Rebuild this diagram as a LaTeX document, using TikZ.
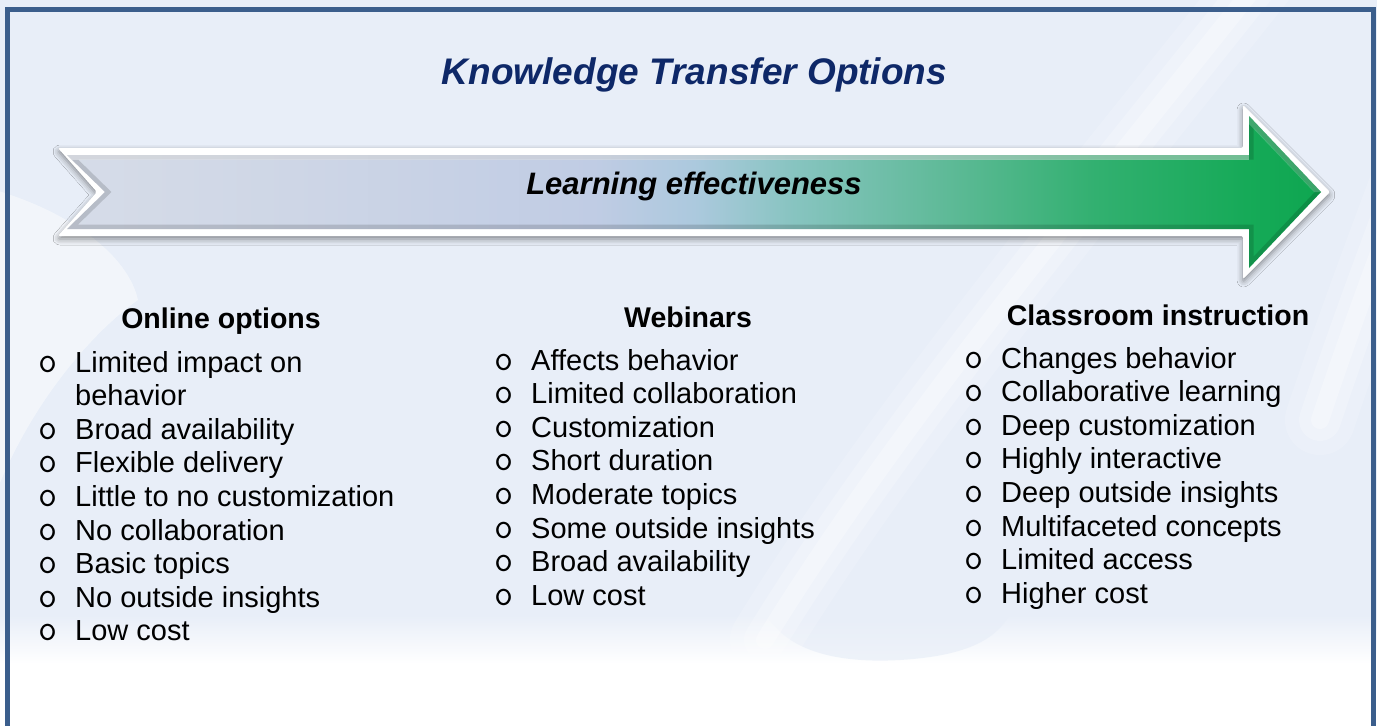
\documentclass[tikz,border=0pt]{standalone}
\usepackage{fontspec}
\setmainfont{Liberation Sans}
\usetikzlibrary{shadows.blur}

% palette
\definecolor{bgblue}{RGB}{232,238,248}
\definecolor{framecol}{RGB}{59,94,140}
\definecolor{titlecol}{RGB}{14,40,104}
\definecolor{sa0}{RGB}{214,220,232}
\definecolor{sa1}{RGB}{206,214,230}
\definecolor{sa2}{RGB}{192,204,228}
\definecolor{sa3}{RGB}{172,201,222}
\definecolor{sa4}{RGB}{135,196,192}
\definecolor{sa5}{RGB}{95,186,152}
\definecolor{sa6}{RGB}{50,176,112}
\definecolor{sa7}{RGB}{22,170,88}
\definecolor{sa8}{RGB}{14,166,80}

% grey-blue to green fill of the arrow
\pgfdeclarehorizontalshading{effshade}{100bp}{
  color(0bp)=(sa0); color(25bp)=(sa0); color(34bp)=(sa1); color(46bp)=(sa2);
  color(50bp)=(sa3); color(54bp)=(sa4); color(60bp)=(sa5); color(66bp)=(sa6);
  color(72bp)=(sa7); color(75bp)=(sa8); color(100bp)=(sa8)}

% open-circle list marker
\newcommand{\lstbullet}{\makebox[36pt][l]{\hspace*{-1pt}\ttfamily\fontsize{37pt}{37pt}\selectfont o}}

\begin{document}
\begin{tikzpicture}[x=1pt,y=-1pt,
  titletext/.style={font=\fontsize{37pt}{40pt}\selectfont\bfseries\itshape, text=titlecol, inner sep=0pt, anchor=base},
  arrowtext/.style={font=\fontsize{31pt}{34pt}\selectfont\bfseries\itshape, text=black, inner sep=0pt, anchor=base},
  heading/.style={font=\fontsize{28.5pt}{34pt}\selectfont\bfseries, text=black, inner sep=0pt, anchor=base},
  itemlist/.style={font=\fontsize{29pt}{33.6pt}\selectfont, text=black, inner sep=0pt, anchor=base west, align=left},
  streak/.style={white, line cap=round}
]
\useasboundingbox (0,0) rectangle (1377,726);
\clip (0,0) rectangle (1377,726);

% background
\fill[bgblue] (0,0) rectangle (1377,726);
\shade[top color=bgblue, bottom color=white] (0,615) rectangle (1377,664);
\fill[white] (0,663) rectangle (1377,726);
\fill[bgblue, opacity=.7] (760,600) .. controls (775,648) and (830,664) .. (900,660)
  .. controls (965,656) and (1005,640) .. (1015,600) -- cycle;

% soft light streaks
\foreach \w/\o in {70/.16, 42/.2, 18/.3}{
  \draw[streak, opacity=\o, line width=\w] (1268,-30) .. controls (1110,170) and (900,420) .. (765,640);
  \draw[streak, opacity=\o, line width=\w] (1410,170) .. controls (1380,250) and (1350,330) .. (1320,420);
}
\foreach \o in {.25,.3}{
  \fill[white, opacity=\o] (-5,190) .. controls (70,212) and (128,255) .. (138,300)
    .. controls (95,330) and (32,400) .. (-5,495) -- cycle;
}

% frame, open at the lower edge
\draw[framecol, line width=5, line join=miter] (7.8,760) -- (7.8,9.2) -- (1373.8,9.2) -- (1373.8,760);

% title
\node[titletext] (title) at (694.5,84) {Knowledge Transfer Options};

% arrow: white rim with soft shadow
\path[fill=white, rounded corners=2pt,
  blur shadow={shadow xshift=0pt, shadow yshift=-3pt, shadow blur radius=6pt, shadow opacity=45}]
  (58,148) -- (1243,148) -- (1243,105) -- (1330,192) -- (1243,279) -- (1243,236) -- (58,236) -- (97,192) -- cycle;
% arrow body
\path[shading=effshade]
  (67,155) -- (1249,155) -- (1249,116) -- (1321,192) -- (1249,268) -- (1249,229) -- (67,229) -- (105,192) -- cycle;
% bevel
\begin{scope}
  \clip (67,155) -- (1249,155) -- (1249,116) -- (1321,192) -- (1249,268) -- (1249,229) -- (67,229) -- (105,192) -- cycle;
  \draw[black, opacity=.14, line width=9]
    (67,155) -- (1249,155) -- (1249,116) -- (1321,192) -- (1249,268) -- (1249,229) -- (67,229) -- (105,192) -- cycle;
  \fill[white, opacity=.4] (60,155) rectangle (1249,160);
  \fill[white, opacity=.2] (1249,116) -- (1321,192) -- (1314,192) -- (1249,124) -- cycle;
\end{scope}
\node[arrowtext] (eff) at (694,194) {Learning effectiveness};

% column headings
\node[heading] (h1) at (221,328) {Online options};
\node[heading] (h2) at (688,327) {Webinars};
\node[heading] (h3) at (1158,325) {Classroom instruction};

% column lists
\node[itemlist] (l1) at (39,372) {\begin{tabular}[t]{@{}l@{}}
\lstbullet Limited impact on\\
\hspace*{36pt}behavior\\
\lstbullet Broad availability\\
\lstbullet Flexible delivery\\
\lstbullet Little to no customization\\
\lstbullet No collaboration\\
\lstbullet Basic topics\\
\lstbullet No outside insights\\
\lstbullet Low cost
\end{tabular}};

\node[itemlist] (l2) at (495,370) {\begin{tabular}[t]{@{}l@{}}
\lstbullet Affects behavior\\
\lstbullet Limited collaboration\\
\lstbullet Customization\\
\lstbullet Short duration\\
\lstbullet Moderate topics\\
\lstbullet Some outside insights\\
\lstbullet Broad availability\\
\lstbullet Low cost
\end{tabular}};

\node[itemlist] (l3) at (965,368) {\begin{tabular}[t]{@{}l@{}}
\lstbullet Changes behavior\\
\lstbullet Collaborative learning\\
\lstbullet Deep customization\\
\lstbullet Highly interactive\\
\lstbullet Deep outside insights\\
\lstbullet Multifaceted concepts\\
\lstbullet Limited access\\
\lstbullet Higher cost
\end{tabular}};
\end{tikzpicture}
\end{document}
